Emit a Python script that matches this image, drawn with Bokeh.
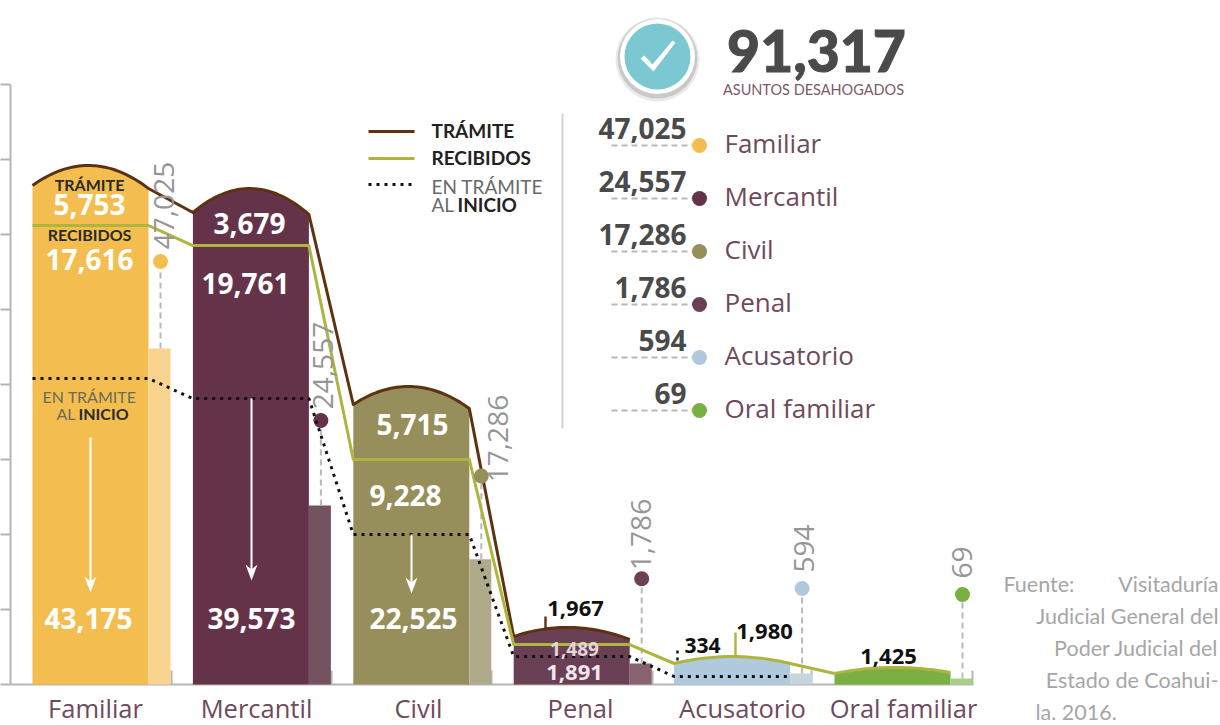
from bokeh.plotting import figure
from bokeh.embed import file_html
from bokeh.resources import INLINE
from bokeh.core.properties import value
from bokeh.models import Range1d, FixedTicker
import numpy as np

# ---------- data ----------
categories = ["Familiar", "Mercantil", "Civil", "Penal", "Acusatorio", "Oral familiar"]
totals = [47025, 24557, 17286, 1786, 594, 69]
tramite_vals = [5753, 3679, 5715, 1967, None, None]
recibidos_vals = [17616, 19761, 9228, 1489, 1980, 1425]
inicio_vals = [43175, 39573, 22525, 1891, 334, None]
grand_total = 91317
# heights as read against the left axis (ticks every 10,000)
inicio_level = [40800, 38130, 20000, 3730, 1070]
recibidos_level = [61200, 58530, 30000, 5330]
arc_left = [66530, 62930, 37330, 6400, 2800, 1470]
arc_peak = [69200, 66130, 39730, 7600, 3730, 2270]
arc_right = [66130, 62670, 36800, 6000, 2800, 1600]
side_level = [44800, 23870, 16700, 2800, 1470, 800]
pin_level = [56400, 35200, 27800, 14100, 12800, 12000]
colors = ["#F3BE4F", "#643349", "#968F5B", "#6A4055", "#B0C9DC", "#7AAF42"]
side_colors = ["#F8D48E", "#74525F", "#AFAB8A", "#87636F", "#C7D5DF", "#A8CE87"]
dot_colors = ["#F3BE4F", "#643349", "#968F5B", "#6A4055", "#B0C9DC", "#7AAF42"]

BROWN, OLIVE, GRAY, WINE = "#5E3210", "#AEB53F", "#B9B9B9", "#6E4A5C"
HEAD = "Open Sans"

W, H = 1220, 725
def Y(py):            # page pixel row -> axis value
    return (684 - py) * 10000 / 75

p = figure(width=W, height=H, output_backend="svg", toolbar_location=None,
           x_range=Range1d(0, W), y_range=Range1d(Y(H), Y(0)),
           min_border=0, outline_line_color=None, x_axis_location="below", y_axis_location="left")
p.grid.visible = False

# axes
y_ticks = list(range(0, 90000, 10000))
ya = p.yaxis[0]
ya.fixed_location = 10
ya.ticker = FixedTicker(ticks=y_ticks)
ya.bounds = (0, 80000)
ya.major_label_overrides = {t: "" for t in y_ticks}
ya.major_label_text_font_size = "10px"
ya.major_tick_in, ya.major_tick_out = 0, 12
ya.major_tick_line_color = ya.axis_line_color = "#B5B5B5"
ya.major_tick_line_width = ya.axis_line_width = 2

label_x = [95, 256, 418, 580, 742, 903]
sep_x = [171, 331, 491, 652, 811, 972]
xa = p.xaxis[0]
xa.fixed_location = 0
xa.ticker = FixedTicker(ticks=sep_x)
xa.major_label_overrides = {x: "" for x in sep_x}
xa.major_label_text_font_size = "10px"
xa.bounds = (10, 973)
xa.major_tick_in, xa.major_tick_out = 14, 0
xa.minor_tick_in = xa.minor_tick_out = 0
xa.axis_line_color = xa.major_tick_line_color = "#B5B5B5"
xa.axis_line_width = 2
xa.major_tick_line_width = 2
xa.level = "underlay"

# ---------- bars ----------
x0, step, bw, sw = 32.0, 160.4, 116.0, 22.0
lefts = [x0 + i * step for i in range(6)]

def arc(i):
    t = np.linspace(0, 1, 41)
    lin = arc_left[i] * (1 - t) + arc_right[i] * t
    bump = (arc_peak[i] - (arc_left[i] + arc_right[i]) / 2) * (1 - (2 * t - 1) ** 2)
    return lefts[i] + t * bw, lin + bump

for i in range(6):
    ax, ay = arc(i)
    p.patch(list(ax) + [lefts[i] + bw, lefts[i]], list(ay) + [0, 0], fill_color=colors[i], line_color=None)
    p.quad(left=lefts[i] + bw, right=lefts[i] + bw + sw, bottom=0, top=side_level[i],
           fill_color=side_colors[i], line_color=None)

# pins from side bars to dots
for i in range(6):
    xp = lefts[i] + bw + sw / 2 + 1
    p.line([xp, xp], [side_level[i], pin_level[i]], line_color=GRAY, line_width=2, line_dash="6 4")

# tramite line
tx, ty = [], []
for i in range(4):
    a, b = arc(i)
    tx += list(a); ty += list(b)
p.line(tx, ty, line_color=BROWN, line_width=3, line_join="round")
# recibidos line
rx, ry = [], []
for i in range(4):
    rx += [lefts[i], lefts[i] + bw]; ry += [recibidos_level[i], recibidos_level[i]]
for i in (4, 5):
    a, b = arc(i)
    rx += list(a); ry += list(b)
p.line(rx, ry, line_color=OLIVE, line_width=3, line_join="round")
# pin dots
p.scatter([lefts[i] + bw + sw / 2 + 1 for i in range(6)], pin_level, size=15,
          fill_color=dot_colors, line_color=None)
# inicio dotted line
ix, iy = [], []
for i in range(5):
    ix += [lefts[i], lefts[i] + bw]; iy += [inicio_level[i], inicio_level[i]]
p.line(ix, iy, line_color="#111111", line_width=3, line_dash="3 5")

# small leader marks
p.line([545, 545], [Y(616), Y(630)], line_color=BROWN, line_width=2.4)
p.line([735, 735], [Y(632), Y(656)], line_color=OLIVE, line_width=2.4)
p.line([677, 677], [Y(650), Y(663)], line_color="#111111", line_width=2.4, line_dash="3 4")

# white arrows
for ax_, y1, y2 in [(90, 437, 592), (251, 398, 580), (411, 534, 593)]:
    p.line([ax_, ax_], [Y(y1), Y(y2 - 8)], line_color="white", line_width=2)
    p.patch([ax_, ax_ + 6, ax_, ax_ - 6], [Y(y2), Y(y2 - 16), Y(y2 - 11), Y(y2 - 16)],
            fill_color="white", line_color=None)

# ---------- text helper ----------
def T(x, y, s, size, color, font=HEAD, style="normal", align="center", angle=0, outline=None):
    kw = {}
    if outline:
        kw["text_outline_color"] = outline
    p.text([x], [Y(y)], text=[s], text_font=value(font), text_font_size=f"{size}px",
           text_font_style=style, text_color=color, text_align=align,
           text_baseline="middle", angle=angle, angle_units="deg", **kw)

# category labels
for lx, c in zip(label_x, categories):
    T(lx, 707, c, 25.5, WINE)

# values in bars
f = lambda v: f"{v:,}"
BIG = 28
T(89, 204, f(tramite_vals[0]), BIG, "white", style="bold")
T(89, 259, f(recibidos_vals[0]), BIG, "white", style="bold")
T(88, 618, f(inicio_vals[0]), BIG, "white", style="bold")
T(249, 223, f(tramite_vals[1]), BIG, "white", style="bold")
T(245, 283, f(recibidos_vals[1]), BIG, "white", style="bold")
T(251, 618, f(inicio_vals[1]), BIG, "white", style="bold")
T(412, 424, f(tramite_vals[2]), BIG, "white", style="bold")
T(405, 495, f(recibidos_vals[2]), BIG, "white", style="bold")
T(413, 618, f(inicio_vals[2]), BIG, "white", style="bold")
T(574, 648, f(recibidos_vals[3]), 19, "#E5D5DC", style="bold")
T(574, 672, f(inicio_vals[3]), 22, "#F0E8EC", style="bold")
T(575, 608, f(tramite_vals[3]), 22, "#111111", style="bold")
T(702, 645, f(inicio_vals[4]), 21, "#111111", style="bold")
T(764, 631, f(recibidos_vals[4]), 22, "#111111", style="bold")
T(888, 656, f(recibidos_vals[5]), 22, "#111111", style="bold")

# mini labels in first bar
SMALL = "Lato"
T(89, 184, "TRÁMITE", 16, "#2A2A2A", SMALL, "bold")
T(89, 234, "RECIBIDOS", 16, "#2A2A2A", SMALL, "bold")
T(89, 396, "EN TRÁMITE", 16, "#6B6B5A", SMALL)
T(75, 413, "AL", 16, "#6B6B5A", SMALL, align="right")
T(78, 413, "INICIO", 16, "#2A2A2A", SMALL, "bold", align="left")

# rotated totals above pins
rot_x = [163, 322, 497, 640, 803, 961]
rot_y = [205, 365, 438, 534, 548, 562]
for rx_, ry_, t in zip(rot_x, rot_y, totals):
    T(rx_, ry_, f(t), 28, "#969696", "Open Sans", angle=90)

# legend
for yy, c, dash in [(131, BROWN, "solid"), (158, OLIVE, "solid"), (184, "#111111", "3 5")]:
    p.line([368, 414], [Y(yy), Y(yy)], line_color=c, line_width=3, line_dash=dash)
T(431, 130, "TRÁMITE", 19, "#222222", SMALL, "bold", "left")
T(431, 157, "RECIBIDOS", 19, "#222222", SMALL, "bold", "left")
T(431, 186, "EN TRÁMITE", 19, "#6A6A6A", SMALL, "normal", "left")
T(431, 204, "AL", 19, "#6A6A6A", SMALL, "normal", "left")
T(457, 204, "INICIO", 19, "#222222", SMALL, "bold", "left")

# separator
p.line([562, 562], [Y(113), Y(428)], line_color="#D2D2D2", line_width=2)

# right list
rows = [144, 197, 250, 303, 356, 409]
for yy, c, t, dc in zip(rows, categories, totals, dot_colors):
    p.line([611, 692], [Y(yy + 1), Y(yy + 1)], line_color=GRAY, line_width=2, line_dash="6 4")
    p.scatter([699], [Y(yy + 1)], size=15, fill_color=dc, line_color=None)
    T(686, yy - 16, f(t), 28, "#4A4A4A", style="bold", align="right")
    T(724, yy - 2, c, 26, WINE, align="left")

# headline + badge
for r, a, dy in [(84, 0.12, 3), (80, 0.22, 2)]:
    p.scatter([657], [Y(56 + dy)], size=r, fill_color="#555555", fill_alpha=a, line_color=None)
p.scatter([657], [Y(56)], size=75, fill_color="white", line_color=None)
p.scatter([657], [Y(56)], size=66, fill_color="#7CC8D2", line_color=None)
p.patch([640, 644, 652, 672, 675, 653], [Y(58), Y(55), Y(64), Y(40), Y(42), Y(71)],
        fill_color="white", line_color=None)
T(816, 50, f(grand_total), 57, "#4A4A4A", "Lato Black", "bold", outline="#4A4A4A")
T(813, 89, "ASUNTOS DESAHOGADOS", 14.5, "#7B5A6A", SMALL)

# source note
NOTE = "#A6A6A6"
T(1003, 583, "Fuente:", 21.5, NOTE, "Lato", align="left")
T(1218, 583, "Visitaduría", 21.5, NOTE, "Lato", align="right")
T(1218, 615, "Judicial General del", 21.5, NOTE, "Lato", align="right")
T(1218, 647, "Poder Judicial del", 21.5, NOTE, "Lato", align="right")
T(1218, 679, "Estado de Coahui-", 21.5, NOTE, "Lato", align="right")
T(1035, 711, "la. 2016.", 21.5, NOTE, "Lato", align="left")

open("out.html", "w").write(file_html(p, INLINE))
